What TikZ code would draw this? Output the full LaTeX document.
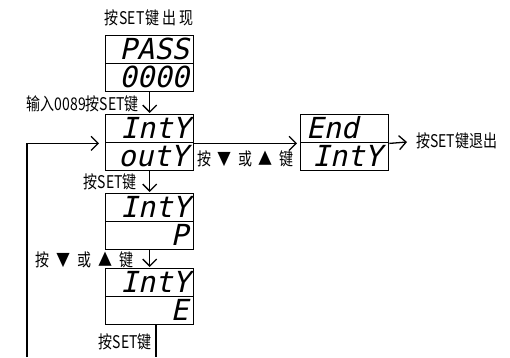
\documentclass[tikz,border=0pt]{standalone}
\usepackage{fontspec}
\usetikzlibrary{arrows.meta,calc}
\newfontfamily\cjk[FakeStretch=0.8]{Noto Sans CJK SC}
\newfontfamily\seg[FakeSlant=0.22]{DejaVu Sans Mono}
\begin{document}
\begin{tikzpicture}[x=1pt,y=-1pt,
  cell/.style={draw, line width=1.4pt, minimum width=88pt, minimum height=28pt, inner sep=0pt, anchor=north west},
  disp/.style={font=\seg\fontsize{29}{29}\selectfont, inner sep=0pt, anchor=base east},
  lbl/.style={font=\cjk\fontsize{17.5}{17.5}\selectfont, inner sep=0pt},
  conn/.style={line width=1.3pt, -{Straight Barb[length=7pt,width=14pt]}, shorten >=1pt},
  plain/.style={line width=1.3pt}]
\useasboundingbox (0,0) rectangle (510,357);
% boxes
\node[cell] (b1t) at (105,35) {};
\node[cell] (b1b) at (105,63) {};
\node[cell] (b2t) at (105,114) {};
\node[cell] (b2b) at (105,142) {};
\node[cell] (b3t) at (300,114) {};
\node[cell] (b3b) at (300,142) {};
\node[cell] (b4t) at (105,193) {};
\node[cell] (b4b) at (105,221) {};
\node[cell] (b5t) at (105,268) {};
\node[cell] (b5b) at (105,296) {};
% display texts
\node[disp] (d1) at ($(b1t.south east)+(-5,-5)$) {PASS};
\node[disp] (d2) at ($(b1b.south east)+(-5,-5)$) {0000};
\node[disp] (d3) at ($(b2t.south east)+(-4,-5)$) {IntY};
\node[disp] (d4) at ($(b2b.south east)+(-6,-5)$) {outY};
\node[disp, anchor=base west] (d5) at ($(b3t.south west)+(6,-5)$) {End};
\node[disp] (d6) at ($(b3b.south east)+(-7,-5)$) {IntY};
\node[disp] (d7) at ($(b4t.south east)+(-4,-5)$) {IntY};
\node[disp] (d8) at ($(b4b.south east)+(-6,-5)$) {P};
\node[disp] (d9) at ($(b5t.south east)+(-4,-5)$) {IntY};
\node[disp] (d10) at ($(b5b.south east)+(-6,-5)$) {E};
% connectors
\draw[conn] (b1b.south) -- (b2t.north);
\draw[conn] (b2b.south) -- (b4t.north);
\draw[conn] (b4b.south) -- (b5t.north);
\draw[conn, shorten >=3pt] (b2t.south east) -- (b3t.south west);
\coordinate (exit) at (407,142);
\draw[conn, shorten >=0pt] (b3t.south east) -- (exit);
\coordinate (loopb) at (27,357);
\draw[conn, shorten >=6pt] (loopb) |- (b2t.south west);
\coordinate (exitb) at (156,357);
\draw[plain] (b5b.south -| exitb) -- (exitb);
% labels
\node[lbl] (l0) at (149,18) {按\hspace{1pt}SET\hspace{1pt}键\hspace{3pt}出\hspace{3pt}现};
\node[lbl, anchor=east] (l1) at (139,104) {输入0089按SET键};
\node[lbl, anchor=west] (l2) at (197,159) {按\hspace{6.5pt}▼\hspace{6.5pt}或\hspace{6.5pt}▲\hspace{6.5pt}键};
\node[lbl, anchor=west] (l3) at (416,141) {按SET键退出};
\node[lbl, anchor=east] (l4) at (137,182) {按SET键};
\node[lbl, anchor=east] (l5) at (134,260) {按\hspace{7pt}▼\hspace{7pt}或\hspace{7pt}▲\hspace{7pt}键};
\node[lbl, anchor=east] (l6) at (152,342) {按SET键};
\end{tikzpicture}
\end{document}
